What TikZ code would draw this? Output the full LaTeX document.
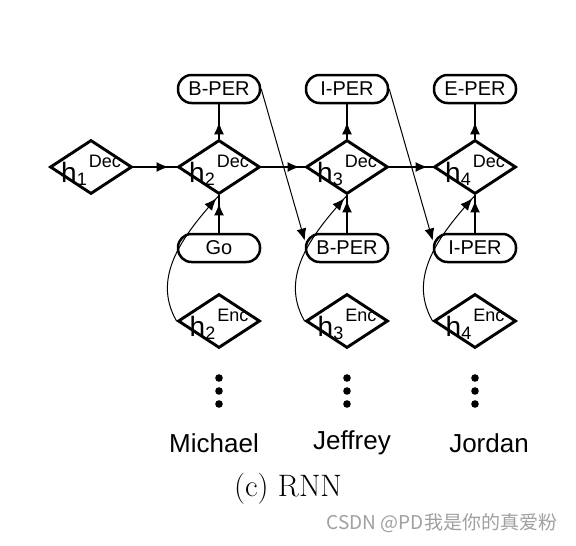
\documentclass[tikz,border=0pt]{standalone}
\usepackage{fontspec}
\newfontfamily\arialf{Liberation Sans}
\newfontfamily\cjkf{Noto Sans CJK SC}
\definecolor{markgray}{RGB}{160,160,160}
\usetikzlibrary{arrows.meta, shapes.geometric, decorations.markings}

% h with index and Dec/Enc tag
\newcommand{\hlab}[2]{{\fontsize{28}{28}\selectfont h}\raisebox{-3pt}{\fontsize{18}{18}\selectfont #1}\hspace{2pt}\raisebox{15pt}{\fontsize{18}{18}\selectfont #2}}

\tikzset{
    state/.style={diamond, draw, line width=2.9pt, minimum width=82pt, minimum height=54pt, inner sep=0pt},
    tag/.style={rectangle, rounded corners=13.5pt, draw, line width=2.5pt, minimum width=82pt, minimum height=28pt, font=\arialf\fontsize{20}{20}\selectfont},
    flow/.style={line width=1.4pt, postaction={decorate}, decoration={markings, mark=at position #1 with {\arrow{Latex[length=12pt,width=10pt]}}}},
    jump/.style={line width=1pt, -{Latex[length=12pt,width=10pt]}},
    loop/.style={line width=1pt, postaction={decorate}, decoration={markings, mark=at position -4pt with {\arrow{Latex[length=12pt,width=10pt]}}}},
    word/.style={font=\arialf\fontsize{26}{26}\selectfont},
    hname/.style={font=\arialf, yshift=-3pt}
}

\begin{document}
\begin{tikzpicture}[x=1pt, y=1pt]
    \path[fill=white] (0,0) rectangle (576,-546);
    \useasboundingbox (0,0) rectangle (576,-546);

    % decoder states
    \node[state, label={[hname]center:\hlab{1}{Dec}}] (d1) at (91,-167) {};
    \node[state, label={[hname]center:\hlab{2}{Dec}}] (d2) at (219,-167) {};
    \node[state, label={[hname]center:\hlab{3}{Dec}}] (d3) at (347,-167) {};
    \node[state, label={[hname]center:\hlab{4}{Dec}}] (d4) at (475,-167) {};

    % encoder states
    \node[state, label={[hname]center:\hlab{2}{Enc}}] (e2) at (219,-321) {};
    \node[state, label={[hname]center:\hlab{3}{Enc}}] (e3) at (347,-321) {};
    \node[state, label={[hname]center:\hlab{4}{Enc}}] (e4) at (475,-321) {};

    % output tags
    \node[tag] (t2) at (219,-89) {B-PER};
    \node[tag] (t3) at (347,-89) {I-PER};
    \node[tag] (t4) at (475,-89) {E-PER};

    % input tags
    \node[tag] (g2) at (219,-248) {Go};
    \node[tag] (b3) at (347,-248) {B-PER};
    \node[tag] (b4) at (475,-248) {I-PER};

    % words
    \node[word] (w2) at (214,-443) {Michael};
    \node[word] (w3) at (352,-443) {Jeffrey};
    \node[word] (w4) at (489,-443) {Jordan};

    \foreach \x in {219,347,475}
        \foreach \y in {-378,-391,-404}
            \fill (\x,\y) circle (3.8pt);

    % recurrence
    \draw[flow=-8pt] (d1) -- (d2);
    \draw[flow=-5pt] (d2) -- (d3);
    \draw[flow=-5pt] (d3) -- (d4);

    \draw[flow=-18pt] (d2) -- (t2);
    \draw[flow=-18pt] (d3) -- (t3);
    \draw[flow=-18pt] (d4) -- (t4);

    \draw[flow=-8pt] (g2) -- (d2);
    \draw[flow=-5pt] (b3) -- (d3);
    \draw[flow=-5pt] (b4) -- (d4);

    % previous tag fed back
    \draw[jump] (t2.east) -- (b3.170);
    \draw[jump] (t3.east) -- (b4.170);

    % encoder to decoder
    \draw[loop] (e2.west) to[out=120, in=228] (d2.south);
    \draw[loop] (e3.west) to[out=120, in=228] (d3.south);
    \draw[loop] (e4.west) to[out=120, in=228] (d4.south);

    \node[font=\fontsize{31}{31}\selectfont] (cap) at (288,-489) {(c) RNN};
    \node[font=\cjkf\fontsize{19}{19}\selectfont, text=markgray] (mark) at (442,-523) {CSDN @PD我是你的真爱粉};
\end{tikzpicture}
\end{document}
